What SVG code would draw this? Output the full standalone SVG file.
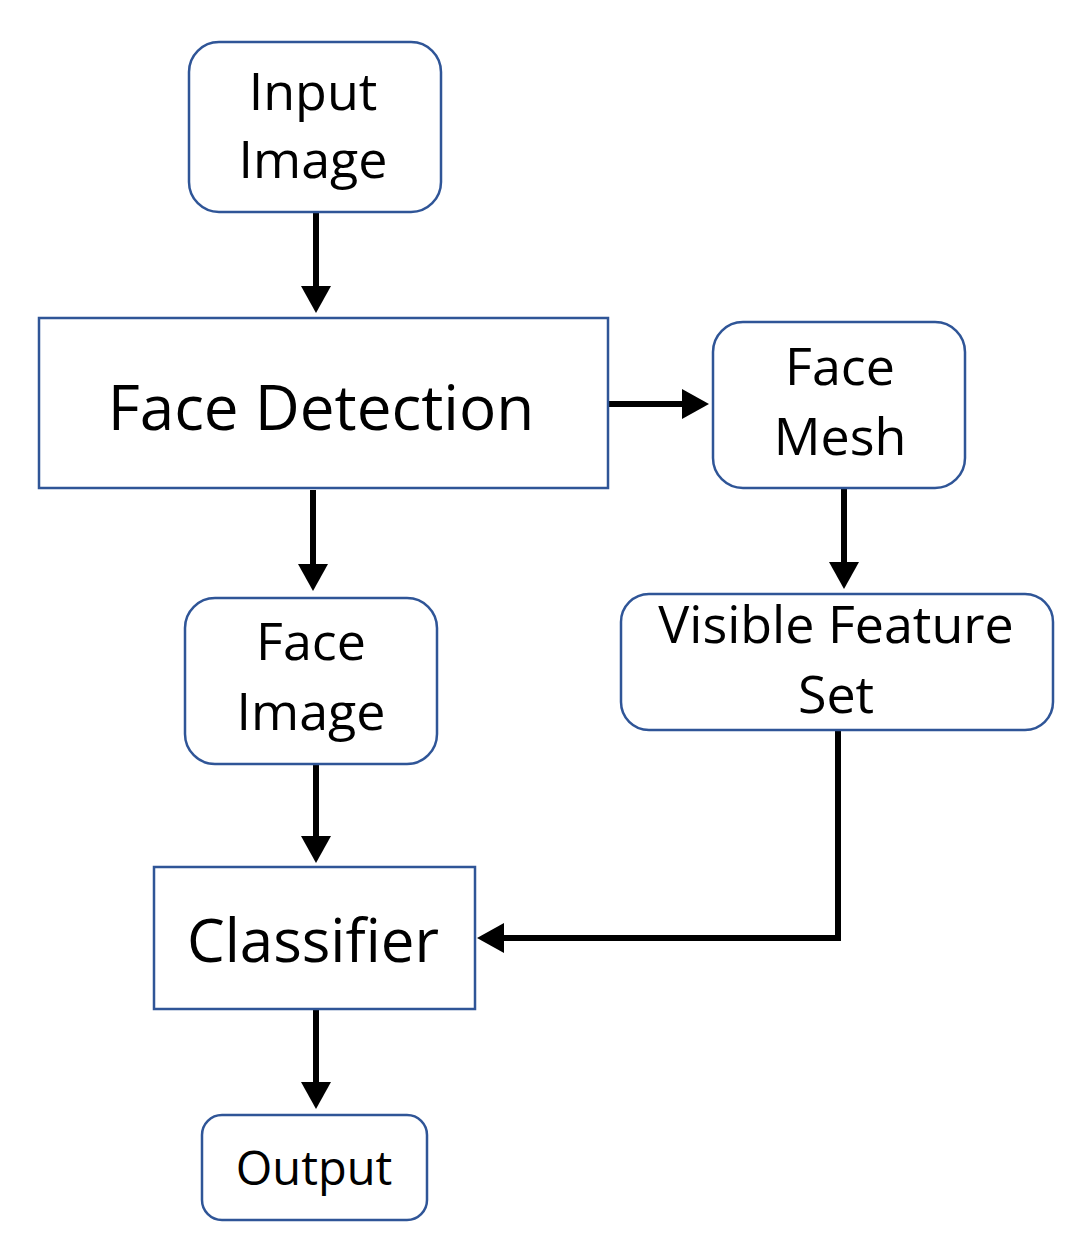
<svg xmlns="http://www.w3.org/2000/svg" width="1076" height="1243" viewBox="0 0 1076 1243">
<style>
.box{fill:#fff;stroke:#2F5597;stroke-width:2.5}
.t{font-family:"Open Sans","Noto Sans",sans-serif;fill:#000;text-anchor:middle;font-size:52px}
.c{fill:none;stroke:#000;stroke-width:6;marker-end:url(#ah)}
</style>
<defs>
<marker id="ah" markerUnits="userSpaceOnUse" markerWidth="27" markerHeight="30" viewBox="0 0 27 30" refX="6" refY="15" orient="auto">
<path d="M0,0 L27,15 L0,30 Z" fill="#000"/>
</marker>
</defs>
<rect width="1076" height="1243" fill="#fff"/>
<g id="connectors">
<path class="c" d="M316,213 L316,292"/>
<path class="c" d="M609,404 L688,404"/>
<path class="c" d="M313,490 L313,570"/>
<path class="c" d="M844,489 L844,568"/>
<path class="c" d="M316,765 L316,842"/>
<path class="c" d="M838,731 L838,938 L498,938"/>
<path class="c" d="M316,1010 L316,1088"/>
</g>
<g id="input-image">
<rect class="box" x="189" y="42" width="252" height="170" rx="30"/>
<text class="t" x="313" y="110">Input</text>
<text class="t" x="313" y="178">Image</text>
</g>
<g id="face-detection">
<rect class="box" x="39" y="318" width="569" height="170"/>
<text class="t" x="321" y="430" style="font-size:62px">Face Detection</text>
</g>
<g id="face-mesh">
<rect class="box" x="713" y="322" width="252" height="166" rx="30"/>
<text class="t" x="840" y="385">Face</text>
<text class="t" x="840" y="455">Mesh</text>
</g>
<g id="visible-feature-set">
<rect class="box" x="621" y="594" width="432" height="136" rx="28"/>
<text class="t" x="836" y="643">Visible Feature</text>
<text class="t" x="836" y="713">Set</text>
</g>
<g id="face-image">
<rect class="box" x="185" y="598" width="252" height="166" rx="30"/>
<text class="t" x="311" y="660">Face</text>
<text class="t" x="311" y="730">Image</text>
</g>
<g id="classifier">
<rect class="box" x="154" y="867" width="321" height="142"/>
<text class="t" x="313" y="962" style="font-size:60px">Classifier</text>
</g>
<g id="output">
<rect class="box" x="202" y="1115" width="225" height="105" rx="20"/>
<text class="t" x="314" y="1185" style="font-size:47px">Output</text>
</g>
</svg>
